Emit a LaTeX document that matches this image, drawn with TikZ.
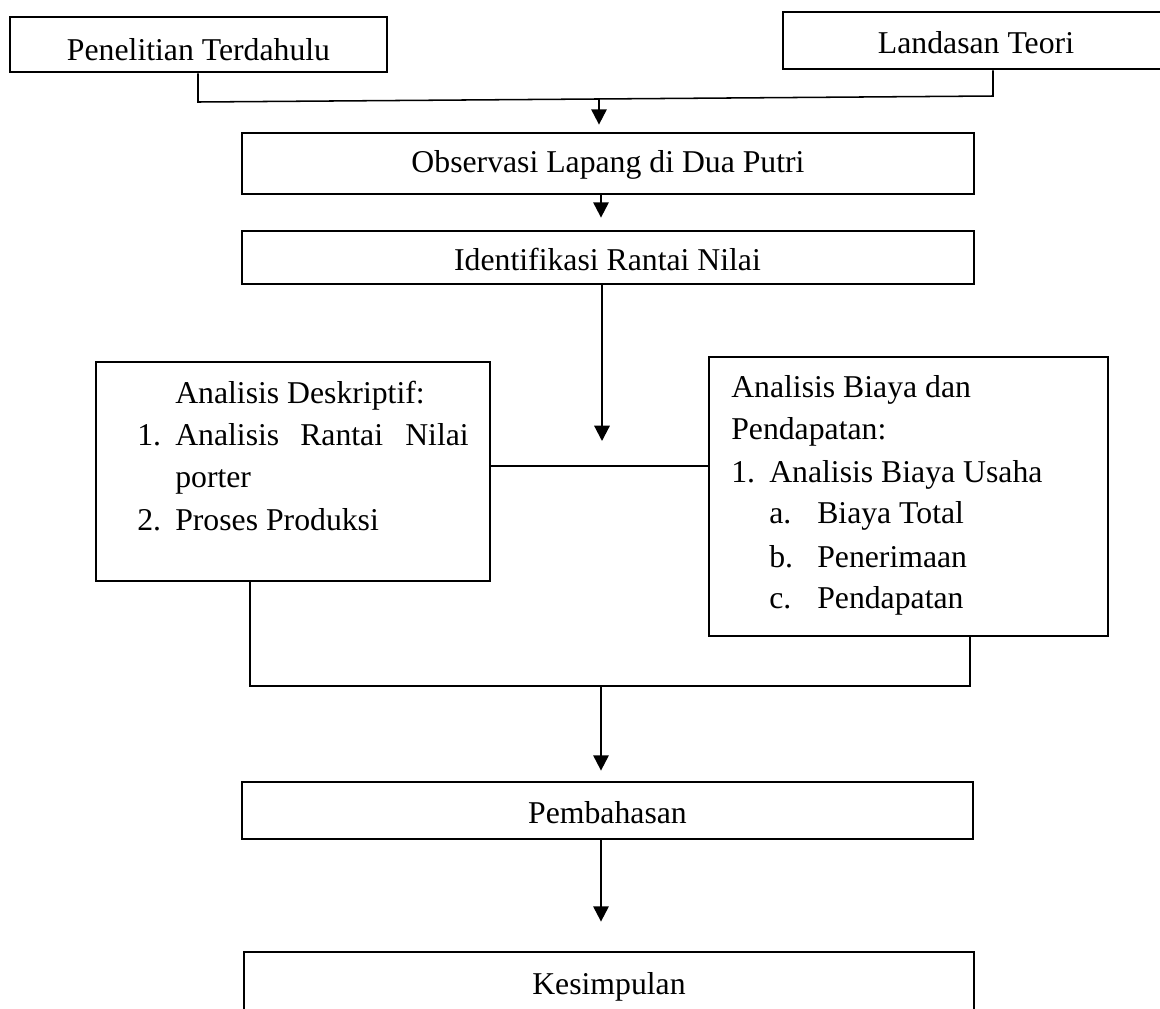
\documentclass[tikz,border=0pt]{standalone}
\usepackage{fontspec}
\setmainfont{Liberation Serif}
\usetikzlibrary{arrows.meta}
\newcommand\fs{\fontsize{23.8}{31.5}\selectfont}
\begin{document}
\begin{tikzpicture}[x=0.75pt,y=-0.75pt,
  box/.style={draw=black, line width=2.1pt, inner sep=0pt},
  txt/.style={inner sep=0pt, anchor=base west, font=\fs},
  ctxt/.style={inner sep=0pt, anchor=base, font=\fs},
  link/.style={line width=1.15pt},
  arr/.style={line width=1.6pt, -{Triangle[length=11.5pt,width=11.5pt]}}]
\useasboundingbox (0,0) rectangle (1160,1008);

% single-line boxes and their titles
\node[box, minimum width=282.75pt, minimum height=41.25pt] (pen) at (198.5,44.5) {};
\node[ctxt] (pen-t) at (198.5,60) {Penelitian Terdahulu};
\node[box, minimum width=290.25pt, minimum height=42.75pt] (lan) at (976.5,40.5) {};
\node[ctxt] (lan-t) at (976,53) {Landasan Teori};
\node[box, minimum width=549pt, minimum height=45.75pt] (obs) at (608,163.5) {};
\node[ctxt] (obs-t) at (608,172) {Observasi Lapang di Dua Putri};
\node[box, minimum width=549pt, minimum height=39.75pt] (ide) at (608,257.5) {};
\node[ctxt] (ide-t) at (607.5,270) {Identifikasi Rantai Nilai};
\node[box, minimum width=548.25pt, minimum height=42.75pt] (pem) at (607.5,810.5) {};
\node[ctxt] (pem-t) at (607.5,823) {Pembahasan};
\node[box, minimum width=547.5pt, minimum height=45pt] (kes) at (609,982) {};
\node[ctxt] (kes-t) at (609,994) {Kesimpulan};

% the two analysis boxes
\node[box, minimum width=295.5pt, minimum height=164.25pt] (des) at (293,471.5) {};
\node[box, minimum width=299.25pt, minimum height=209.25pt] (bia) at (908.5,496.5) {};

\node[txt] (d0) at (175,403) {Analisis Deskriptif:};
\node[txt] (d1n) at (137,445) {1.};
\node[txt] (d1a) at (175,445) {Analisis};
\node[txt] (d1b) at (300,445) {Rantai};
\node[txt] (d1c) at (405,445) {Nilai};
\node[txt] (d1d) at (175,487) {porter};
\node[txt] (d2n) at (137,530) {2.};
\node[txt] (d2a) at (175,530) {Proses Produksi};

\node[txt] (b0) at (731,397) {Analisis Biaya dan};
\node[txt] (b1) at (731,439) {Pendapatan:};
\node[txt] (b2n) at (731,482) {1.};
\node[txt] (b2a) at (769,482) {Analisis Biaya Usaha};
\node[txt] (ban) at (769,523) {a.};
\node[txt] (baa) at (817,523) {Biaya Total};
\node[txt] (bbn) at (769,567) {b.};
\node[txt] (bba) at (817,567) {Penerimaan};
\node[txt] (bcn) at (769,608) {c.};
\node[txt] (bca) at (817,608) {Pendapatan};

% top join
\coordinate (jl) at (198,102);
\coordinate (jr) at (993,96);
\coordinate (jm) at (599,99.3);
\draw[link] (pen.south -| jl) -- (jl) -- (jr) -- (lan.south -| jr);
\draw[arr, shorten >=5.25pt] (jm) -- (obs.north -| jm);

\coordinate (ax) at (601,0);
\draw[arr, shorten >=9pt] (obs.south -| ax) -- (ide.north -| ax);
\coordinate (t3) at (602,441);
\draw[arr] (ide.south -| t3) -- (t3);

% link between the analysis boxes
\coordinate (hl) at (0,466);
\draw[link] (des.east |- hl) -- (bia.west |- hl);

% bottom join
\coordinate (bl) at (250,686);
\coordinate (br) at (970,686);
\coordinate (bm) at (601,686);
\draw[link, line width=1.4pt] (des.south -| bl) -- (bl) -- (br) -- (bia.south -| br);
\draw[arr, shorten >=7.5pt] (bm) -- (pem.north -| bm);
\draw[arr, shorten >=21.75pt] (pem.south -| bm) -- (kes.north -| bm);
\end{tikzpicture}
\end{document}
